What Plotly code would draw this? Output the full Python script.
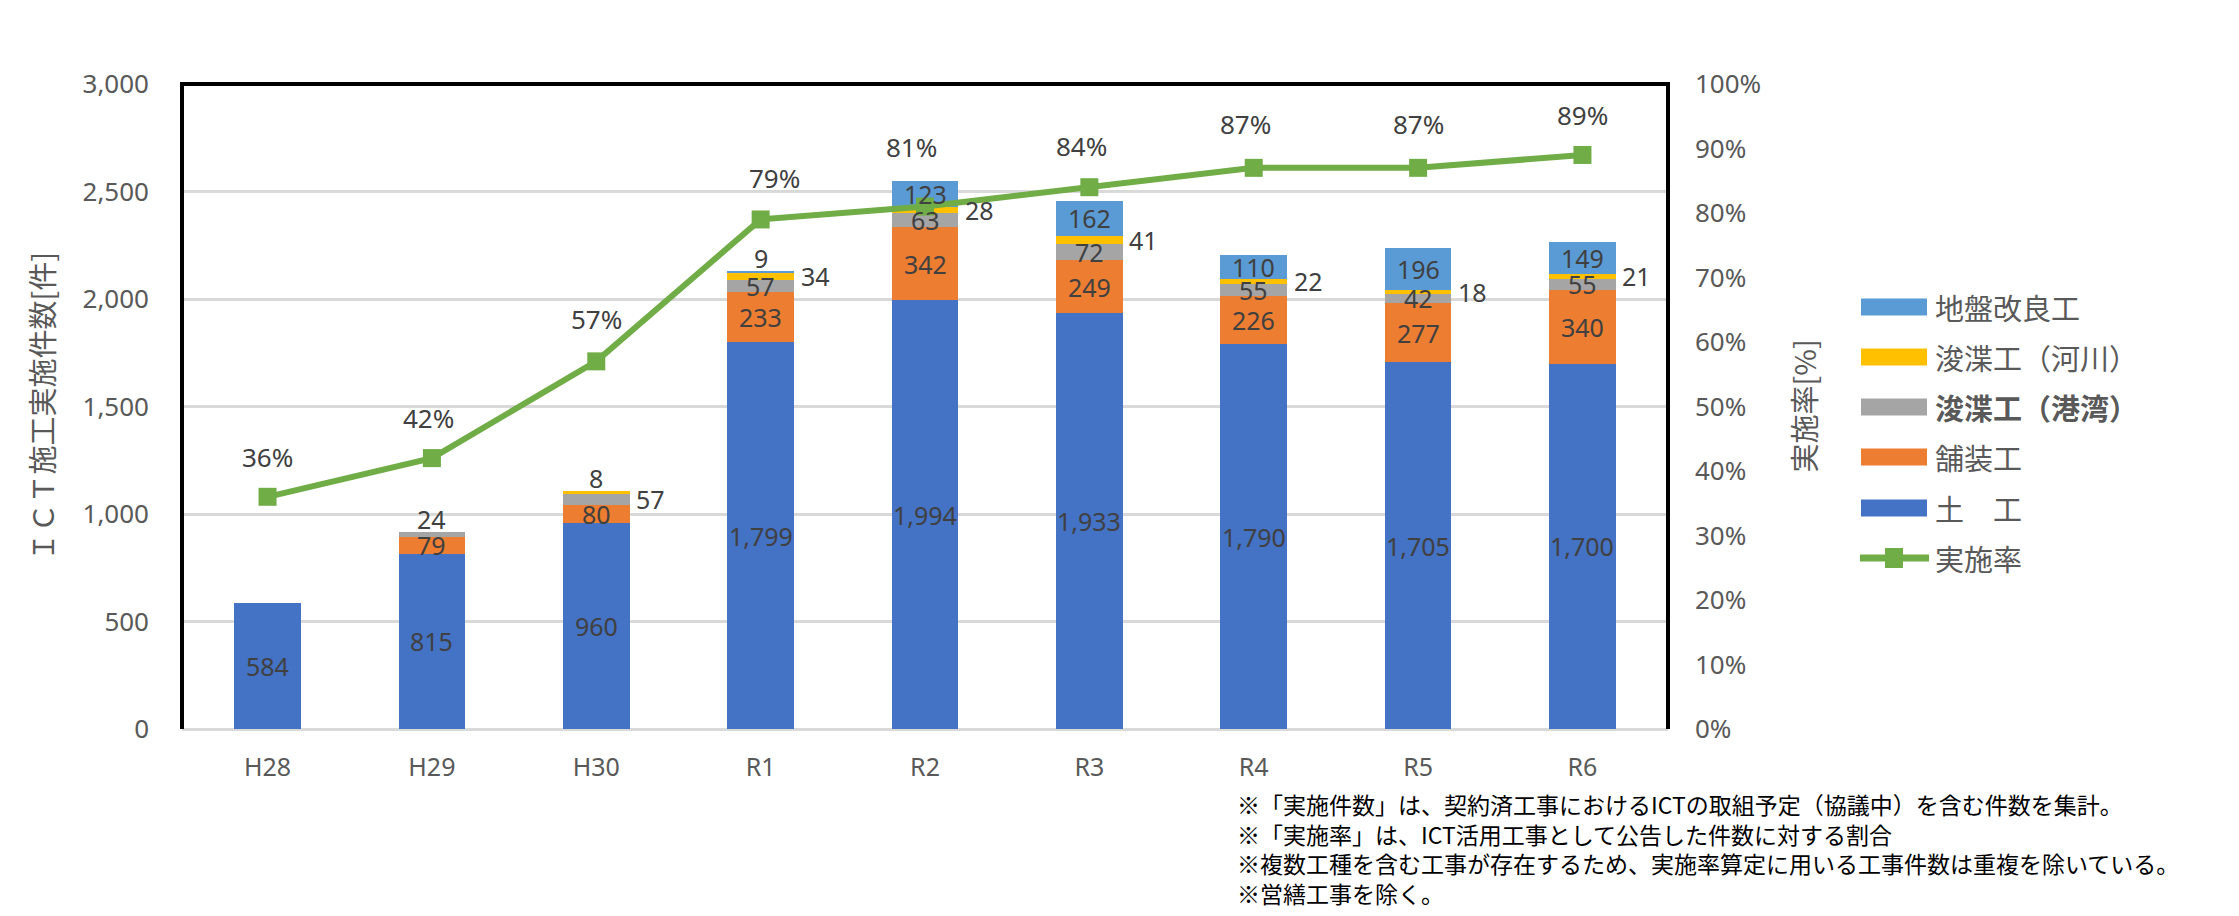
import plotly.graph_objects as go

# ---------------- data ----------------
categories = ["H28", "H29", "H30", "R1", "R2", "R3", "R4", "R5", "R6"]
dokou      = [584, 815, 960, 1799, 1994, 1933, 1790, 1705, 1700]   # 土工
hosou      = [0, 79, 80, 233, 342, 249, 226, 277, 340]             # 舗装工
shunsetsu_kouwan = [0, 24, 57, 57, 63, 72, 55, 42, 55]             # 浚渫工（港湾）
shunsetsu_kasen  = [0, 0, 8, 34, 28, 41, 22, 18, 21]               # 浚渫工（河川）
jiban      = [0, 0, 0, 9, 123, 162, 110, 196, 149]                 # 地盤改良工
rate       = [0.36, 0.42, 0.57, 0.79, 0.81, 0.84, 0.87, 0.87, 0.89]  # 実施率

series_names = ["土　工", "舗装工", "浚渫工（港湾）", "浚渫工（河川）", "地盤改良工"]
left_ticks = [0, 500, 1000, 1500, 2000, 2500, 3000]
notes = [
    "※「実施件数」は、契約済工事におけるICTの取組予定（協議中）を含む件数を集計。",
    "※「実施率」は、ICT活用工事として公告した件数に対する割合",
    "※複数工種を含む工事が存在するため、実施率算定に用いる工事件数は重複を除いている。",
    "※営繕工事を除く。",
]

# ---------------- style ----------------
colors = ["#4472C4", "#ED7D31", "#A5A5A5", "#FFC000", "#5B9BD5"]
green = "#70AD47"
axis_gray = "#595959"
label_col = "#404040"
FONT = "Noto Sans, Noto Sans CJK JP, sans-serif"
JFONT = "Noto Sans CJK JP, sans-serif"

# label placement per series: c=center, a=above stack, r=right of bar
label_modes = [
    ["c"] * 9,
    ["c"] * 9,
    ["c", "a", "r", "c", "c", "c", "c", "c", "c"],
    ["c", "c", "a", "r", "r", "r", "r", "r", "r"],
    ["c", "c", "c", "a", "c", "c", "c", "c", "c"],
]
rate_yshift = [40, 40, 42, 41, 60, 41, 44, 44, 40]
rate_xshift = [0, -3, 0, 14, -14, -8, -8, 0, 0]

W, H = 2239, 916
L, R, T, B = 182, 1668, 84, 729


def px_x(x):
    return (x - L) / (R - L)


def px_y(y):
    return (B - y) / (B - T)


fig = go.Figure()
stack = [dokou, hosou, shunsetsu_kouwan, shunsetsu_kasen, jiban]
for name, vals, col in zip(series_names, stack, colors):
    fig.add_trace(go.Bar(x=categories, y=vals, name=name, marker_color=col,
                         marker_line_width=0, yaxis="y"))

fig.add_trace(go.Scatter(x=categories, y=rate, name="実施率", yaxis="y2",
                         mode="lines+markers",
                         line=dict(color=green, width=6),
                         marker=dict(symbol="square", size=18, color=green)))

annotations = []
# bar value labels
totals = [sum(s[i] for s in stack) for i in range(len(categories))]
for si, vals in enumerate(stack):
    for i, v in enumerate(vals):
        if not v:
            continue
        base = sum(stack[k][i] for k in range(si))
        mode = label_modes[si][i]
        a = dict(x=categories[i], xref="x", yref="y", text=f"{v:,}",
                 showarrow=False, font=dict(family=FONT, size=25, color=label_col))
        if mode == "c":
            a.update(y=base + v / 2, xanchor="center", yanchor="middle")
        elif mode == "a":
            a.update(y=totals[i], xanchor="center", yanchor="middle", yshift=13)
        else:
            a.update(y=base + v / 2, xanchor="left", yanchor="middle", xshift=38)
        annotations.append(a)

# rate labels
for i, r in enumerate(rate):
    annotations.append(dict(x=categories[i], y=r, xref="x", yref="y2",
                            text=f"{round(r * 100)}%", showarrow=False,
                            xanchor="center", yanchor="middle",
                            yshift=rate_yshift[i], xshift=rate_xshift[i],
                            font=dict(family=FONT, size=26, color=label_col)))

# axis titles
annotations.append(dict(x=px_x(40), y=0.5, xref="paper", yref="paper",
                        text="ＩＣＴ施工実施件数[件]", textangle=-90, showarrow=False,
                        xanchor="center", yanchor="middle",
                        font=dict(family=JFONT, size=29, color=axis_gray)))
annotations.append(dict(x=px_x(1802), y=0.5, xref="paper", yref="paper",
                        text="実施率[%]", textangle=-90, showarrow=False,
                        xanchor="center", yanchor="middle",
                        font=dict(family=JFONT, size=29, color=axis_gray)))

# custom legend
shapes = []
legend_rows = [(4, 307), (3, 357), (2, 407), (1, 457), (0, 508)]
for si, yc in legend_rows:
    shapes.append(dict(type="rect", xref="paper", yref="paper",
                       x0=px_x(1861), x1=px_x(1927), y0=px_y(yc + 8.5), y1=px_y(yc - 8.5),
                       fillcolor=colors[si], line=dict(width=0)))
    txt = series_names[si]
    if si == 2:
        txt = f"<b>{txt}</b>"
    annotations.append(dict(x=px_x(1933), y=px_y(yc), xref="paper", yref="paper",
                            text=txt, showarrow=False, xanchor="left", yanchor="middle",
                            font=dict(family=JFONT, size=29, color=axis_gray)))
ly = 558
shapes.append(dict(type="line", xref="paper", yref="paper",
                   x0=px_x(1860), x1=px_x(1929), y0=px_y(ly), y1=px_y(ly),
                   line=dict(color=green, width=7)))
shapes.append(dict(type="rect", xref="paper", yref="paper",
                   x0=px_x(1885), x1=px_x(1903), y0=px_y(ly + 10), y1=px_y(ly - 10),
                   fillcolor=green, line=dict(width=0)))
annotations.append(dict(x=px_x(1933), y=px_y(ly), xref="paper", yref="paper",
                        text="実施率", showarrow=False, xanchor="left", yanchor="middle",
                        font=dict(family=JFONT, size=29, color=axis_gray)))

# plot border (left, top, right)
shapes.append(dict(type="path", xref="paper", yref="paper",
                   path="M0,0 L0,1 L1,1 L1,0", line=dict(color="black", width=4),
                   layer="above"))

# notes
note_y = [804, 833.5, 863, 892.5]
for t, yc in zip(notes, note_y):
    annotations.append(dict(x=px_x(1235), y=px_y(yc), xref="paper", yref="paper",
                            text=t, showarrow=False, xanchor="left", yanchor="middle",
                            font=dict(family=JFONT, size=23, color="black")))

fig.update_layout(
    width=W, height=H,
    margin=dict(l=L, r=W - R, t=T, b=H - B, autoexpand=False),
    paper_bgcolor="white", plot_bgcolor="white",
    barmode="stack", bargap=0.594,
    showlegend=False,
    font=dict(family=FONT),
    xaxis=dict(type="category", showline=False, ticks="", showgrid=False,
               tickfont=dict(family=FONT, size=25, color=axis_gray),
               ticklabelstandoff=21),
    yaxis=dict(range=[0, 3000], tickvals=left_ticks, tickformat=",",
               showgrid=True, gridcolor="#D9D9D9", gridwidth=3,
               zeroline=True, zerolinecolor="#D9D9D9", zerolinewidth=3,
               showline=False, ticks="",
               tickfont=dict(family=FONT, size=26, color=axis_gray),
               ticklabelstandoff=32),
    yaxis2=dict(range=[0, 1], overlaying="y", side="right", tickformat=".0%",
                dtick=0.1, tick0=0, showgrid=False, zeroline=False, showline=False,
                ticks="", tickfont=dict(family=FONT, size=26, color=axis_gray),
                ticklabelstandoff=26),
    annotations=annotations,
    shapes=shapes,
)

fig.write_html("out.html")
